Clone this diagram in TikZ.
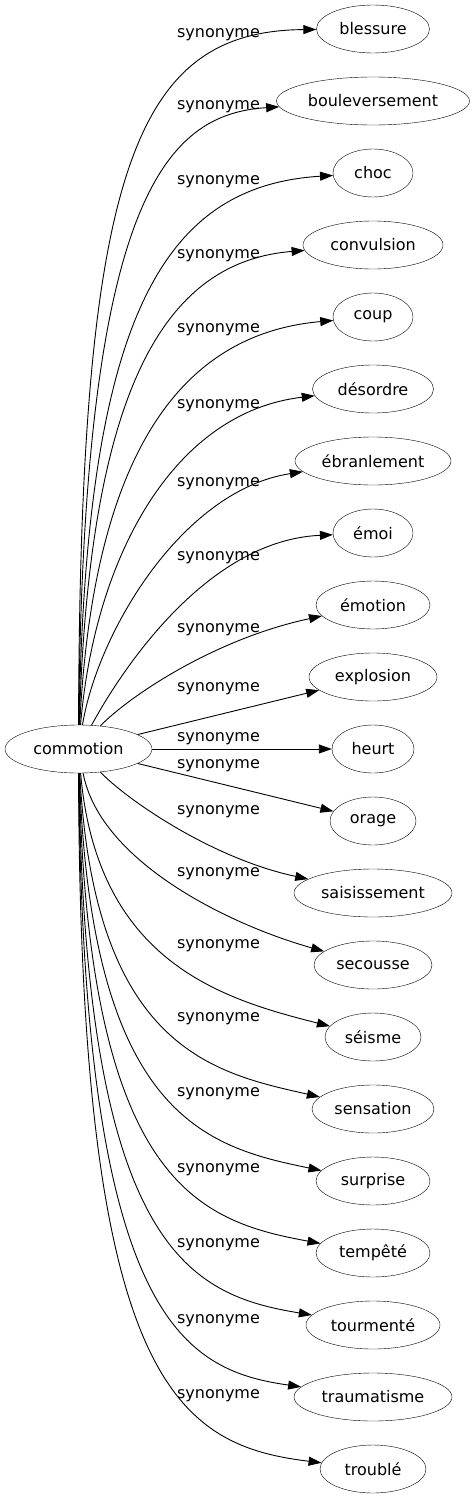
\documentclass[tikz,border=0pt]{standalone}
\usepackage{fontspec}
\setmainfont{DejaVu Sans}
\usetikzlibrary{shapes.geometric,arrows.meta}
\begin{document}
\begin{tikzpicture}[x=1pt,y=-1pt,
  word/.style={draw=black,ellipse,minimum height=48pt,font=\fontsize{16}{19}\selectfont},
  rel/.style={font=\fontsize{16}{19}\selectfont},
  syn/.style={draw=black,line width=0.9pt,-{Triangle[length=13pt,width=9pt]}}]
\tikzstyle{every node}+=[inner sep=0pt]
\useasboundingbox (0,0) rectangle (475,1499);
\node [word,minimum width=147] (commotion) at (78.5,749) {commotion};
\node [word,minimum width=113] (blessure) at (373,29) {blessure};
\node [word,minimum width=193] (bouleversement) at (373,101) {bouleversement};
\node [word,minimum width=80] (choc) at (373,173) {choc};
\node [word,minimum width=140] (convulsion) at (373,245) {convulsion};
\node [word,minimum width=80] (coup) at (373,317) {coup};
\node [word,minimum width=121] (desordre) at (373,389) {désordre};
\node [word,minimum width=156] (ebranlement) at (373,461) {ébranlement};
\node [word,minimum width=80] (emoi) at (373,533) {émoi};
\node [word,minimum width=114] (emotion) at (373,605) {émotion};
\node [word,minimum width=128] (explosion) at (373,677) {explosion};
\node [word,minimum width=82] (heurt) at (373,749) {heurt};
\node [word,minimum width=86] (orage) at (373,821) {orage};
\node [word,minimum width=158] (saisissement) at (373,893) {saisissement};
\node [word,minimum width=118] (secousse) at (373,965) {secousse};
\node [word,minimum width=96] (seisme) at (373,1037) {séisme};
\node [word,minimum width=122] (sensation) at (373,1109) {sensation};
\node [word,minimum width=114] (surprise) at (373,1181) {surprise};
\node [word,minimum width=114] (tempete) at (373,1253) {tempêté};
\node [word,minimum width=134] (tourmente) at (373,1325) {tourmenté};
\node [word,minimum width=158] (traumatisme) at (373,1397) {traumatisme};
\node [word,minimum width=106] (trouble) at (373,1469) {troublé};
% upper edges
\draw [syn] (commotion) .. controls (80,169) and (135,31) .. (blessure);
\draw [syn] (commotion) .. controls (83,200) and (165,114) .. (bouleversement);
\draw [syn] (commotion) .. controls (86,323) and (160,186) .. (choc);
\draw [syn] (commotion) .. controls (89,400) and (159,262) .. (convulsion);
\draw [syn] (commotion) .. controls (92,477) and (167,335) .. (coup);
\draw [syn] (commotion) .. controls (95,554) and (175,412) .. (desordre);
\draw [syn] (commotion) .. controls (98,631) and (183,490) .. (ebranlement);
\draw [syn] (commotion) .. controls (101,708) and (191,541) .. (emoi);
\draw [syn] (commotion) .. controls (125,700) and (210,640) .. (emotion);
\draw [syn] (commotion) -- (explosion);
\draw [syn] (commotion) -- (heurt);
% lower edges
\draw [syn] (commotion) -- (orage);
\draw [syn] (commotion) .. controls (125,798) and (210,858) .. (saisissement);
\draw [syn] (commotion) .. controls (100,862) and (230,925) .. (secousse);
\draw [syn] (commotion) .. controls (97,962) and (222,999) .. (seisme);
\draw [syn] (commotion) .. controls (94,1049) and (214,1073) .. (sensation);
\draw [syn] (commotion) .. controls (91,1116) and (206,1147) .. (surprise);
\draw [syn] (commotion) .. controls (88,1183) and (198,1221) .. (tempete);
\draw [syn] (commotion) .. controls (85,1250) and (190,1295) .. (tourmente);
\draw [syn] (commotion) .. controls (83,1317) and (182,1370) .. (traumatisme);
\draw [syn] (commotion) .. controls (80,1380) and (175,1445) .. (trouble);
% labels
\node [rel] (l0) at (218.5,35) {synonyme};
\node [rel] (l1) at (218.5,107) {synonyme};
\node [rel] (l2) at (218.5,182) {synonyme};
\node [rel] (l3) at (218.5,256) {synonyme};
\node [rel] (l4) at (218.5,330) {synonyme};
\node [rel] (l5) at (218.5,406) {synonyme};
\node [rel] (l6) at (218.5,484) {synonyme};
\node [rel] (l7) at (218.5,558) {synonyme};
\node [rel] (l8) at (218.5,630) {synonyme};
\node [rel] (l9) at (218.5,689) {synonyme};
\node [rel] (l10) at (218.5,739) {synonyme};
\node [rel] (l11) at (218.5,766) {synonyme};
\node [rel] (l12) at (218.5,812) {synonyme};
\node [rel] (l13) at (218.5,874) {synonyme};
\node [rel] (l14) at (218.5,946) {synonyme};
\node [rel] (l15) at (218.5,1019) {synonyme};
\node [rel] (l16) at (218.5,1094) {synonyme};
\node [rel] (l17) at (218.5,1170) {synonyme};
\node [rel] (l18) at (218.5,1245) {synonyme};
\node [rel] (l19) at (218.5,1321) {synonyme};
\node [rel] (l20) at (218.5,1396) {synonyme};
\end{tikzpicture}
\end{document}
